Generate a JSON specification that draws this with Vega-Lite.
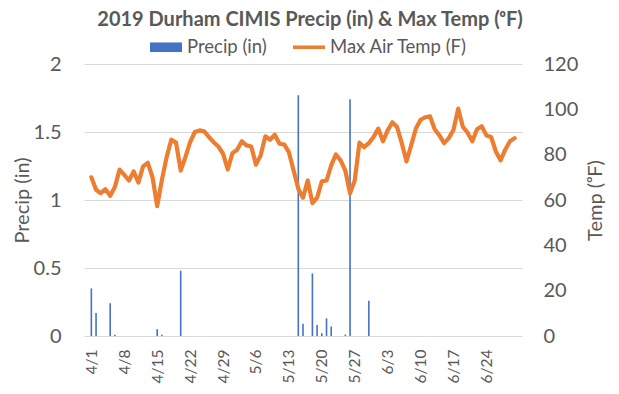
{
  "$schema": "https://vega.github.io/schema/vega-lite/v6.json",
  "width": 438,
  "height": 272,
  "autosize": {"type": "none"},
  "padding": {"left": 84, "top": 64, "right": 97, "bottom": 58},
  "background": "white",
  "config": {
    "font": "Lato",
    "view": {"stroke": null},
    "axis": {"labelColor": "#595959", "titleColor": "#595959", "titleFontWeight": "normal", "domain": false, "ticks": false}
  },
  "title": {"text": "2019 Durham CIMIS Precip (in) & Max Temp (ᵒF)", "fontSize": 20, "fontWeight": "bold", "color": "#595959", "anchor": "middle", "dx": 7, "offset": 1},
  "data": {"values": [
    {"date": "2019-04-01", "precip": 0.35, "temp": 70},
    {"date": "2019-04-02", "precip": 0.17, "temp": 64.5},
    {"date": "2019-04-03", "precip": 0, "temp": 63},
    {"date": "2019-04-04", "precip": 0, "temp": 64.8},
    {"date": "2019-04-05", "precip": 0.24, "temp": 61.9},
    {"date": "2019-04-06", "precip": 0.01, "temp": 65.7},
    {"date": "2019-04-07", "precip": 0, "temp": 73.4},
    {"date": "2019-04-08", "precip": 0, "temp": 71.1},
    {"date": "2019-04-09", "precip": 0, "temp": 68.6},
    {"date": "2019-04-10", "precip": 0, "temp": 72.6},
    {"date": "2019-04-11", "precip": 0, "temp": 67.7},
    {"date": "2019-04-12", "precip": 0, "temp": 74.8},
    {"date": "2019-04-13", "precip": 0, "temp": 76.4},
    {"date": "2019-04-14", "precip": 0, "temp": 70.1},
    {"date": "2019-04-15", "precip": 0.05, "temp": 57.3},
    {"date": "2019-04-16", "precip": 0.01, "temp": 68.9},
    {"date": "2019-04-17", "precip": 0, "temp": 78.9},
    {"date": "2019-04-18", "precip": 0, "temp": 86.6},
    {"date": "2019-04-19", "precip": 0, "temp": 85.3},
    {"date": "2019-04-20", "precip": 0.48, "temp": 73},
    {"date": "2019-04-21", "precip": 0, "temp": 78.9},
    {"date": "2019-04-22", "precip": 0, "temp": 85.5},
    {"date": "2019-04-23", "precip": 0, "temp": 90},
    {"date": "2019-04-24", "precip": 0, "temp": 90.7},
    {"date": "2019-04-25", "precip": 0, "temp": 90.3},
    {"date": "2019-04-26", "precip": 0, "temp": 87.8},
    {"date": "2019-04-27", "precip": 0, "temp": 85.5},
    {"date": "2019-04-28", "precip": 0, "temp": 83.6},
    {"date": "2019-04-29", "precip": 0, "temp": 80.4},
    {"date": "2019-04-30", "precip": 0, "temp": 73.5},
    {"date": "2019-05-01", "precip": 0, "temp": 80.7},
    {"date": "2019-05-02", "precip": 0, "temp": 82.2},
    {"date": "2019-05-03", "precip": 0, "temp": 85.9},
    {"date": "2019-05-04", "precip": 0, "temp": 84.1},
    {"date": "2019-05-05", "precip": 0, "temp": 83.6},
    {"date": "2019-05-06", "precip": 0, "temp": 75.6},
    {"date": "2019-05-07", "precip": 0, "temp": 79.7},
    {"date": "2019-05-08", "precip": 0, "temp": 88.1},
    {"date": "2019-05-09", "precip": 0, "temp": 86.6},
    {"date": "2019-05-10", "precip": 0, "temp": 88.8},
    {"date": "2019-05-11", "precip": 0, "temp": 84.8},
    {"date": "2019-05-12", "precip": 0, "temp": 84.5},
    {"date": "2019-05-13", "precip": 0, "temp": 81.1},
    {"date": "2019-05-14", "precip": 0, "temp": 73},
    {"date": "2019-05-15", "precip": 1.77, "temp": 65},
    {"date": "2019-05-16", "precip": 0.09, "temp": 61},
    {"date": "2019-05-17", "precip": 0, "temp": 68.6},
    {"date": "2019-05-18", "precip": 0.46, "temp": 58.6},
    {"date": "2019-05-19", "precip": 0.08, "temp": 61},
    {"date": "2019-05-20", "precip": 0.02, "temp": 68.2},
    {"date": "2019-05-21", "precip": 0.13, "temp": 68.6},
    {"date": "2019-05-22", "precip": 0.07, "temp": 75.3},
    {"date": "2019-05-23", "precip": 0, "temp": 80.1},
    {"date": "2019-05-24", "precip": 0, "temp": 77.5},
    {"date": "2019-05-25", "precip": 0.01, "temp": 73},
    {"date": "2019-05-26", "precip": 1.74, "temp": 63},
    {"date": "2019-05-27", "precip": 0, "temp": 68.6},
    {"date": "2019-05-28", "precip": 0, "temp": 85.3},
    {"date": "2019-05-29", "precip": 0, "temp": 83.3},
    {"date": "2019-05-30", "precip": 0.26, "temp": 85.1},
    {"date": "2019-05-31", "precip": 0, "temp": 87.8},
    {"date": "2019-06-01", "precip": 0, "temp": 91.5},
    {"date": "2019-06-02", "precip": 0, "temp": 85.9},
    {"date": "2019-06-03", "precip": 0, "temp": 90.7},
    {"date": "2019-06-04", "precip": 0, "temp": 94.3},
    {"date": "2019-06-05", "precip": 0, "temp": 92.2},
    {"date": "2019-06-06", "precip": 0, "temp": 85.1},
    {"date": "2019-06-07", "precip": 0, "temp": 77},
    {"date": "2019-06-08", "precip": 0, "temp": 84.1},
    {"date": "2019-06-09", "precip": 0, "temp": 91.5},
    {"date": "2019-06-10", "precip": 0, "temp": 95.4},
    {"date": "2019-06-11", "precip": 0, "temp": 96.5},
    {"date": "2019-06-12", "precip": 0, "temp": 96.9},
    {"date": "2019-06-13", "precip": 0, "temp": 91.2},
    {"date": "2019-06-14", "precip": 0, "temp": 88.5},
    {"date": "2019-06-15", "precip": 0, "temp": 85.1},
    {"date": "2019-06-16", "precip": 0, "temp": 87.3},
    {"date": "2019-06-17", "precip": 0, "temp": 91},
    {"date": "2019-06-18", "precip": 0, "temp": 100.3},
    {"date": "2019-06-19", "precip": 0, "temp": 92.2},
    {"date": "2019-06-20", "precip": 0, "temp": 89.7},
    {"date": "2019-06-21", "precip": 0, "temp": 85.9},
    {"date": "2019-06-22", "precip": 0, "temp": 91.2},
    {"date": "2019-06-23", "precip": 0, "temp": 92.5},
    {"date": "2019-06-24", "precip": 0, "temp": 88.5},
    {"date": "2019-06-25", "precip": 0, "temp": 87.8},
    {"date": "2019-06-26", "precip": 0, "temp": 81.4},
    {"date": "2019-06-27", "precip": 0, "temp": 77.5},
    {"date": "2019-06-28", "precip": 0, "temp": 82.2},
    {"date": "2019-06-29", "precip": 0, "temp": 85.9},
    {"date": "2019-06-30", "precip": 0, "temp": 87.3}
  ]},
  "encoding": {
    "x": {
      "field": "date",
      "type": "temporal",
      "scale": {"type": "utc", "domain": [
        {"year": 2019, "month": 3, "date": 31, "hours": 12, "utc": true},
        {"year": 2019, "month": 6, "date": 30, "hours": 12, "utc": true}
      ]},
      "axis": {
        "title": null,
        "grid": false,
        "format": "%-m/%-d",
        "labelAngle": 270,
        "labelFontSize": 15.5,
        "labelPadding": 13,
        "values": [
          {"year": 2019, "month": 4, "date": 1, "utc": true},
          {"year": 2019, "month": 4, "date": 8, "utc": true},
          {"year": 2019, "month": 4, "date": 15, "utc": true},
          {"year": 2019, "month": 4, "date": 22, "utc": true},
          {"year": 2019, "month": 4, "date": 29, "utc": true},
          {"year": 2019, "month": 5, "date": 6, "utc": true},
          {"year": 2019, "month": 5, "date": 13, "utc": true},
          {"year": 2019, "month": 5, "date": 20, "utc": true},
          {"year": 2019, "month": 5, "date": 27, "utc": true},
          {"year": 2019, "month": 6, "date": 3, "utc": true},
          {"year": 2019, "month": 6, "date": 10, "utc": true},
          {"year": 2019, "month": 6, "date": 17, "utc": true},
          {"year": 2019, "month": 6, "date": 24, "utc": true}
        ]
      }
    }
  },
  "layer": [
    {
      "mark": {"type": "bar", "size": 1.6},
      "encoding": {
        "y": {
          "field": "precip",
          "type": "quantitative",
          "scale": {"domain": [0, 2]},
          "axis": {
            "title": "Precip (in)",
            "titleFontSize": 20,
            "titleAngle": 270,
            "titleBaseline": "middle",
            "titleX": -62,
            "titleY": 136,
            "labelFontSize": 20,
            "labelPadding": 23,
            "labelExpr": "'' + datum.value",
            "values": [0, 0.5, 1, 1.5, 2],
            "grid": true,
            "gridColor": "#D9D9D9",
            "gridWidth": 1
          }
        },
        "color": {
          "datum": "Precip (in)",
          "type": "nominal",
          "scale": {"domain": ["Precip (in)", "Max Air Temp (F)"], "range": ["#4472C4", "#ED7D31"]},
          "legend": {
            "title": null,
            "orient": "none",
            "direction": "horizontal",
            "legendX": 66,
            "legendY": -33,
            "padding": 0,
            "symbolSize": 1024,
            "labelFontSize": 18.5,
            "labelColor": "#595959",
            "labelOffset": 5,
            "columnPadding": 26,
            "encode": {
              "symbols": {
                "update": {
                  "shape": {"signal": "datum.label == 'Precip (in)' ? 'M-1,-0.3H1V0.3H-1Z' : 'M-1,-0.11H1V0.11H-1Z'"},
                  "fill": {"signal": "datum.label == 'Precip (in)' ? '#4472C4' : '#ED7D31'"},
                  "stroke": {"value": "transparent"},
                  "strokeWidth": {"value": 0},
                  "opacity": {"value": 1},
                  "fillOpacity": {"value": 1}
                }
              }
            }
          }
        }
      }
    },
    {
      "mark": {"type": "line", "strokeWidth": 4.2, "strokeJoin": "round", "strokeCap": "round"},
      "encoding": {
        "y": {
          "field": "temp",
          "type": "quantitative",
          "scale": {"domain": [0, 120]},
          "axis": {
            "orient": "right",
            "title": "Temp (ᵒF)",
            "titleFontSize": 20,
            "titleAngle": 270,
            "titleBaseline": "middle",
            "titleX": 73,
            "titleY": 136,
            "labelFontSize": 20,
            "labelPadding": 21,
            "values": [0, 20, 40, 60, 80, 100, 120],
            "grid": false
          }
        },
        "color": {"datum": "Max Air Temp (F)", "type": "nominal"}
      }
    }
  ],
  "resolve": {"scale": {"y": "independent"}}
}
